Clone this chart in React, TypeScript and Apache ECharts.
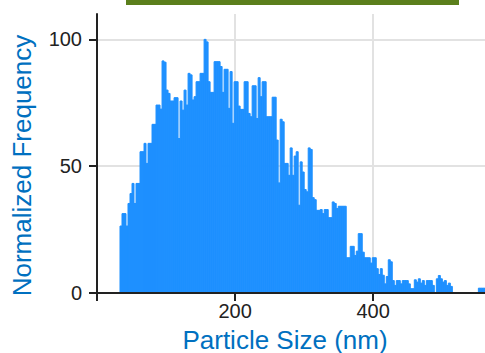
import React, { useEffect, useRef } from "react";
import * as echarts from "echarts";

// Histogram definition (nm)
const binStart = 33.3;
const binWidth = 2.9;
// Normalized frequency per bin
const freq: number[] = [
  26.4, 31.3, 31.3, 26.4, 35.3, 39.2, 43.2, 35.3, 43.2, 43.2,
  55.7, 55.7, 59.0, 51.1, 59.0, 59.0, 66.5, 66.5, 74.1, 74.1,
  72.5, 91.5, 91.0, 80.0, 78.7, 75.7, 75.7, 77.0, 77.0, 60.9,
  75.7, 72.1, 80.0, 74.1, 86.6, 86.0, 76.1, 77.4, 83.3, 83.3,
  86.6, 86.6, 100, 99.0, 83.3, 79.1, 79.1, 91.2, 91.2, 91.2,
  89.3, 79.1, 88.2, 88.2, 72.8, 87.3, 66.9, 83.3, 83.3, 73.7,
  72.4, 72.4, 83.3, 83.3, 70.8, 69.5, 81.7, 81.7, 68.8, 84.9,
  77.4, 83.3, 83.3, 69.5, 69.5, 69.5, 77.2, 77.2, 60.3, 43.4,
  68.5, 67.5, 51.1, 51.1, 46.4, 57.2, 46.4, 54.0, 55.7, 34.6,
  51.7, 47.7, 40.8, 39.9, 57.2, 56.6, 37.6, 36.8, 32.6, 32.6,
  32.9, 31.3, 32.9, 32.9, 29.7, 29.7, 35.9, 35.3, 33.3, 34.2,
  34.2, 34.2, 34.2, 13.9, 13.9, 18.4, 18.4, 14.8, 16.5, 23.4,
  23.4, 16.1, 13.9, 13.9, 13.9, 11.8, 13.9, 13.9, 9.6, 7.3,
  9.6, 7.0, 3.6, 6.5, 13.1, 12.3, 4.9, 3.0, 4.9, 4.9,
  3.6, 4.9, 4.9, 4.9, 3.6, 1.7, 1.7, 5.2, 4.3, 5.6,
  3.9, 4.9, 3.0, 4.9, 4.9, 4.9, 3.0, 0, 5.6, 6.9,
  5.6, 4.3, 4.9, 3.0, 3.9, 2.6,
  0, 0, 0, 0, 0, 0, 0, 0, 0, 0, 0, 0, 0,
  1.9, 1.9, 1.9, 1.9,
];

const xMin = 0;
const xMax = 562;
const yMin = 0;
const yMax = 110;
const xTicks = [0, 200, 400];
const xLabels = [200, 400];
const yTicks = [0, 50, 100];
const yGrid = [50, 100];
const xGrid = [200, 400];

const xTitle = "Particle Size (nm)";
const yTitle = "Normalized Frequency";

const tickFont = '"Liberation Sans", Arial, sans-serif';
const titleFont = '"Liberation Sans", Arial, sans-serif';

export default function App() {
  const ref = useRef<HTMLDivElement>(null);
  useEffect(() => {
    if (!ref.current) return;
    const chart = echarts.init(ref.current, null, { renderer: "svg" });
    const data = freq.map((v, i) => [
      binStart + i * binWidth,
      binStart + (i + 1) * binWidth,
      v,
    ]);
    chart.setOption({
      animation: false,
      backgroundColor: "#ffffff",
      grid: { left: 97, right: 0, top: 14, bottom: 60, containLabel: false },
      xAxis: {
        type: "value",
        min: xMin,
        max: xMax,
        interval: 200,
        z: 5,
        axisLine: { show: true, onZero: false, lineStyle: { color: "#222", width: 2 } },
        axisTick: { show: true, length: 8, customValues: xTicks, lineStyle: { color: "#222", width: 2 } },
        axisLabel: {
          customValues: xLabels,
          margin: 8,
          color: "#222",
          fontSize: 20,
          fontFamily: tickFont,
        },
        splitLine: { show: false },
      },
      yAxis: {
        type: "value",
        min: yMin,
        max: yMax,
        interval: 50,
        z: 5,
        axisLine: { show: true, onZero: false, lineStyle: { color: "#222", width: 2 } },
        axisTick: { show: true, length: 8, customValues: yTicks, lineStyle: { color: "#222", width: 2 } },
        axisLabel: {
          customValues: yTicks,
          margin: 15,
          color: "#222",
          fontSize: 20,
          fontFamily: tickFont,
        },
        splitLine: { show: false },
      },
      graphic: [
        {
          type: "rect",
          shape: { x: 126, y: 0, width: 333, height: 5 },
          style: { fill: "#5b7f1c" },
        },
        {
          type: "text",
          x: 285,
          y: 339.5,
          style: {
            text: xTitle,
            fill: "#0070c0",
            fontSize: 26,
            fontFamily: titleFont,
            align: "center",
            verticalAlign: "middle",
          },
        },
        {
          type: "text",
          x: 22,
          y: 165.5,
          rotation: Math.PI / 2,
          style: {
            text: yTitle,
            fill: "#0070c0",
            fontSize: 26,
            fontFamily: titleFont,
            align: "center",
            verticalAlign: "middle",
          },
        },
      ],
      series: [
        {
          type: "line",
          z: 1,
          data: [[0, 0]],
          showSymbol: false,
          lineStyle: { opacity: 0 },
          silent: true,
          markLine: {
            z: 1,
            silent: true,
            symbol: "none",
            label: { show: false },
            lineStyle: { color: "#e2e2e2", type: "solid", width: 2 },
            data: [
              ...yGrid.map((v) => ({ yAxis: v })),
              ...xGrid.map((v) => ({ xAxis: v })),
            ],
          },
        },
        {
          type: "custom",
          z: 3,
          clip: true,
          data,
          renderItem: (params: any, api: any) => {
            const p0 = api.coord([api.value(0), api.value(2)]);
            const p1 = api.coord([api.value(1), 0]);
            return {
              type: "rect",
              shape: { x: p0[0], y: p0[1], width: p1[0] - p0[0], height: p1[1] - p0[1] },
              style: { fill: "#1e90ff", stroke: "#1e90ff", lineWidth: 1 },
            };
          },
        },
      ],
    });
    return () => chart.dispose();
  }, []);
  return <div ref={ref} style={{ width: 485, height: 353, position: "fixed", left: 0, top: 0 }} />;
}
